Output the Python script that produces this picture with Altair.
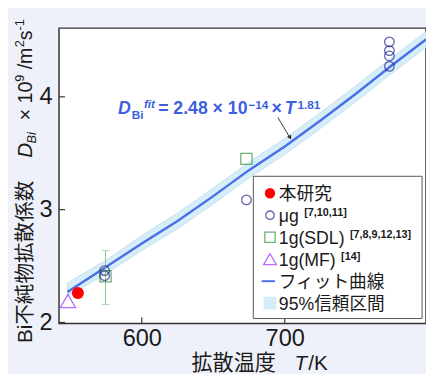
import altair as alt
import pandas as pd

# ---------------- data ----------------
fit_T = [548, 576, 600, 625, 650, 675, 700, 725, 750, 775, 799]
fit_D = [2.27, 2.50, 2.70, 2.90, 3.12, 3.35, 3.56, 3.79, 4.03, 4.28, 4.51]
band_lo = [2.23, 2.44, 2.64, 2.83, 3.05, 3.28, 3.49, 3.72, 3.96, 4.21, 4.44]
band_hi = [2.35, 2.56, 2.77, 2.97, 3.19, 3.42, 3.63, 3.86, 4.10, 4.35, 4.58]

this_T = [555.3]
this_D = [2.26]

ug_T = [574, 574, 673.2, 773.2, 773.2, 773.2, 773.2]
ug_D = [2.46, 2.415, 3.087, 4.487, 4.41, 4.362, 4.27]

sdl_T = [574.6, 673.2]
sdl_D = [2.41, 3.45]
sdl_err_T = [574.6]
sdl_err_lo = [2.159]
sdl_err_hi = [2.637]

mf_T = [548.3]
mf_D = [2.19]

x_ticks = [600, 700]
y_ticks = [2, 3, 4]

legend_labels = ["本研究", "μg", "1g(SDL)", "1g(MF)", "フィット曲線", "95%信頼区間"]
legend_refs = ["", "[7,10,11]", "[7,8,9,12,13]", "[14]", "", ""]

# ---------------- styling ----------------
FONT = "Liberation Sans, Noto Sans CJK JP"
X_DOM = [542.1, 798.8]
Y_DOM = [1.991, 4.609]
W, H = 374, 301
BLUE = "#4a6ee6"
BAND = "#d6eefa"
RED = "#ff0000"
NAVY = "#23238c"
GREEN = "#2f8f3a"
PURPLE = "#9b30ff"
TXT = "#1a1a1a"
ANN = "#3d5fe0"

xs = alt.Scale(domain=X_DOM, nice=False, zero=False)
ys = alt.Scale(domain=Y_DOM, nice=False, zero=False)

fit_df = pd.DataFrame({"T": fit_T, "D": fit_D, "lo": band_lo, "hi": band_hi})

band = alt.Chart(fit_df).mark_area(color=BAND, stroke="#bcdaea", strokeWidth=0.8, clip=True).encode(
    x=alt.X("T:Q", scale=xs, axis=alt.Axis(values=x_ticks, format="d", labelFontSize=24, labelFont=FONT,
                                          labelColor=TXT, ticks=False, domain=False, grid=False,
                                          title=None, labelPadding=3)),
    y=alt.Y("lo:Q", scale=ys, axis=alt.Axis(values=y_ticks, format="d", labelFontSize=24, labelFont=FONT,
                                           labelColor=TXT, ticks=False, domain=False, grid=False,
                                           title=None, labelPadding=7)),
    y2="hi:Q",
)

line = alt.Chart(fit_df).mark_line(color=BLUE, strokeWidth=2.4, clip=True).encode(
    x=alt.X("T:Q", scale=xs), y=alt.Y("D:Q", scale=ys)
)

# inward ticks
xt_df = pd.DataFrame({"T": x_ticks, "a": [Y_DOM[0]] * len(x_ticks), "b": [Y_DOM[0] + 0.052] * len(x_ticks)})
xtick = alt.Chart(xt_df).mark_rule(color="#333", strokeWidth=1.2).encode(
    x=alt.X("T:Q", scale=xs), y=alt.Y("a:Q", scale=ys), y2="b:Q")
yt_df = pd.DataFrame({"D": y_ticks, "a": [X_DOM[0]] * len(y_ticks), "b": [X_DOM[0] + 4.2] * len(y_ticks)})
ytick = alt.Chart(yt_df).mark_rule(color="#333", strokeWidth=1.2).encode(
    y=alt.Y("D:Q", scale=ys), x=alt.X("a:Q", scale=xs), x2="b:Q")

# error bar for SDL
err_df = pd.DataFrame({"T": sdl_err_T, "lo": sdl_err_lo, "hi": sdl_err_hi})
err = alt.Chart(err_df).mark_rule(color="#8cc88c", strokeWidth=1).encode(
    x=alt.X("T:Q", scale=xs), y=alt.Y("lo:Q", scale=ys), y2="hi:Q")
cap_lo = alt.Chart(err_df).mark_tick(color="#8cc88c", orient="horizontal", size=8, thickness=1).encode(
    x=alt.X("T:Q", scale=xs), y=alt.Y("lo:Q", scale=ys))
cap_hi = alt.Chart(err_df).mark_tick(color="#8cc88c", orient="horizontal", size=8, thickness=1).encode(
    x=alt.X("T:Q", scale=xs), y=alt.Y("hi:Q", scale=ys))

def pts(T, D, **kw):
    return alt.Chart(pd.DataFrame({"T": T, "D": D})).mark_point(**kw).encode(
        x=alt.X("T:Q", scale=xs), y=alt.Y("D:Q", scale=ys))

p_sdl = pts(sdl_T, sdl_D, shape="square", size=130, color=GREEN, filled=False, strokeWidth=1.3)
p_ug = pts(ug_T, ug_D, shape="circle", size=95, color=NAVY, filled=False, strokeWidth=1.3)
p_mf = pts(mf_T, mf_D, shape="triangle-up", size=240, color=PURPLE, filled=False, strokeWidth=1.3)
p_this = pts(this_T, this_D, shape="circle", size=150, color=RED, filled=True, opacity=1)

one = pd.DataFrame({"k": [0]})

def txt(s, x, y, size, **kw):
    opts = dict(text=s, fontSize=size, font=FONT, align="left", baseline="alphabetic")
    opts.update(kw)
    return alt.Chart(one).mark_text(**opts).encode(x=alt.value(x), y=alt.value(y))

# annotation for the fit equation
ann = [
    txt("D", 60, 88, 18, fontWeight="bold", fontStyle="italic", color=ANN),
    txt("Bi", 74, 93, 12, fontWeight="bold", color=ANN),
    txt("fit", 86.5, 81, 12, fontWeight="bold", fontStyle="italic", color=ANN),
    txt("= 2.48 × 10", 101, 88, 18, fontWeight="bold", color=ANN),
    txt("−14", 193, 82, 12, fontWeight="bold", color=ANN),
    txt("×", 216.5, 88, 18, fontWeight="bold", color=ANN),
    txt("T", 230, 88, 18, fontWeight="bold", fontStyle="italic", color=ANN),
    txt("1.81", 243, 82, 12, fontWeight="bold", color=ANN),
]
arrow = alt.Chart(one).mark_rule(color="#222", strokeWidth=0.9).encode(
    x=alt.value(223), y=alt.value(91), x2=alt.value(235.5), y2=alt.value(112))
arrow_head = alt.Chart(one).mark_point(shape="triangle-up", size=22, filled=True, color="#222",
                                        angle=150, opacity=1).encode(
    x=alt.value(235.5), y=alt.value(111.5))

# y-axis title pieces (rotated)
YB = -28
ytitle = [
    txt("Bi不純物拡散係数", YB, 321, 21, angle=270, color=TXT),
    txt("D", YB, 132, 21, angle=270, fontStyle="italic", color=TXT),
    txt("Bi", YB + 5, 117.5, 13, angle=270, fontStyle="italic", color=TXT),
    txt("× 10", YB, 94, 20, angle=270, color=TXT),
    txt("9", YB - 8, 54.6, 13, angle=270, color=TXT),
    txt("/m", YB, 42, 20, angle=270, color=TXT),
    txt("2", YB - 8, 19.6, 13, angle=270, color=TXT),
    txt("s", YB, 12.4, 20, angle=270, color=TXT),
    txt("-1", YB - 8, 2.4, 13, angle=270, color=TXT),
]

# x-axis title pieces
xtitle = [
    txt("拡散温度", 135, 348, 21.5, color=TXT),
    txt("T", 240, 348, 21, fontStyle="italic", color=TXT),
    txt("/K", 254, 348, 21, color=TXT),
]

# legend (manual, to allow bracketed superscript references)
LX0, LY0 = 198, 151
box = alt.Chart(one).mark_rect(fill="white", stroke="#555", strokeWidth=1).encode(
    x=alt.value(LX0), x2=alt.value(370), y=alt.value(LY0), y2=alt.value(296))
row_y = [168.3 + i * 22.4 for i in range(len(legend_labels))]
SX, TX = 215, 224
leg = [box]
leg.append(alt.Chart(one).mark_point(shape="circle", size=110, filled=True, color=RED, opacity=1).encode(
    x=alt.value(SX), y=alt.value(row_y[0])))
leg.append(alt.Chart(one).mark_point(shape="circle", size=75, filled=False, color=NAVY, strokeWidth=1.3).encode(
    x=alt.value(SX), y=alt.value(row_y[1])))
leg.append(alt.Chart(one).mark_point(shape="square", size=110, filled=False, color=GREEN, strokeWidth=1.3).encode(
    x=alt.value(SX), y=alt.value(row_y[2])))
leg.append(alt.Chart(one).mark_point(shape="triangle-up", size=170, filled=False, color=PURPLE, strokeWidth=1.3).encode(
    x=alt.value(SX), y=alt.value(row_y[3])))
leg.append(alt.Chart(one).mark_rule(color=BLUE, strokeWidth=2).encode(
    x=alt.value(SX - 8.5), x2=alt.value(SX + 5), y=alt.value(row_y[4])))
leg.append(alt.Chart(one).mark_point(shape="square", size=170, filled=True, color=BAND, opacity=1).encode(
    x=alt.value(SX), y=alt.value(row_y[5])))
label_w = [0, 20.4, 67, 58, 0, 0]
for i, lab in enumerate(legend_labels):
    leg.append(txt(lab, TX, row_y[i] + 6.5, 18, color=TXT))
    if legend_refs[i]:
        leg.append(txt(legend_refs[i], TX + label_w[i] + 5.5, row_y[i] + 1, 11, fontWeight="bold", color=TXT))

chart = alt.layer(
    band, line, xtick, ytick, err, cap_lo, cap_hi, p_sdl, p_ug, p_mf, p_this,
    *ann, arrow, arrow_head, *ytitle, *xtitle, *leg
).properties(
    width=W, height=H,
    autosize=alt.AutoSizeParams(type="none"),
    padding={"left": 52, "top": 17, "right": 0, "bottom": 48},
    background="#eef1f9",
).configure_view(
    fill="white", stroke="#333", strokeWidth=1.5
)

chart.save("out.html", embed_options={"renderer": "svg", "actions": False})
